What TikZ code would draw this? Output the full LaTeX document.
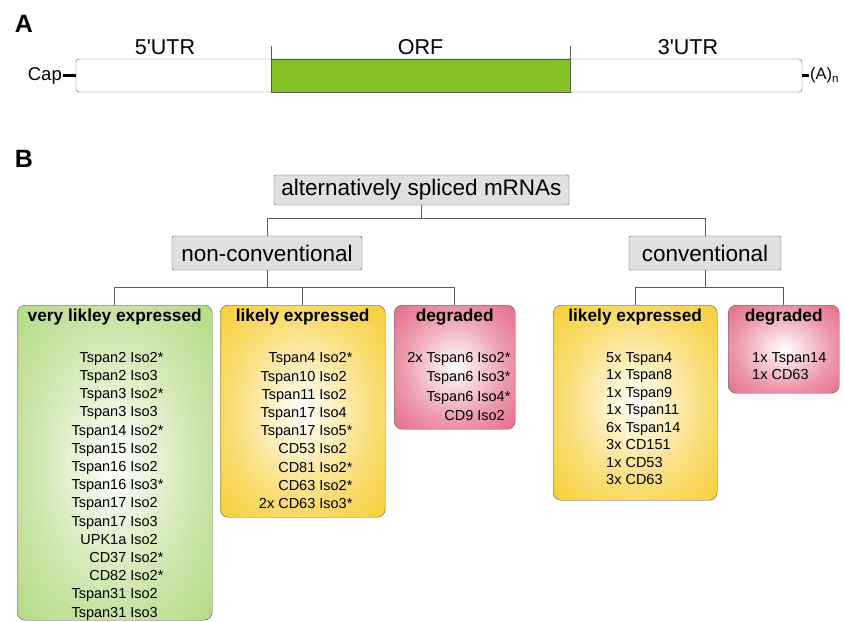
\documentclass[tikz,border=0pt]{standalone}
\usepackage{fontspec}
\setmainfont{Liberation Sans}
\usetikzlibrary{positioning}
\definecolor{orfgreen}{HTML}{84C225}
\definecolor{boxgreen}{HTML}{A0D062}
\definecolor{boxyellow}{HTML}{F5C000}
\definecolor{boxred}{HTML}{DD4566}
\definecolor{linegray}{HTML}{5A5A5A}
\definecolor{catgray}{HTML}{E0E0E0}
\newcommand{\glow}[2]{\pgfdeclareradialshading{#1}{\pgfpoint{0bp}{0bp}}{color(0bp)=(white); color(22bp)=(#2!55!white); color(48bp)=(#2); color(72bp)=(#2)}}
\glow{greenglow}{boxgreen}
\glow{yellowglow}{boxyellow}
\glow{redglow}{boxred}
\newcommand{\st}{\rlap{*}}
\tikzset{
	catbox/.style={draw=linegray, fill=catgray, rounded corners=2pt, inner sep=0pt, minimum height=30pt, font=\fontsize{22.5}{26}\selectfont},
	groupbox/.style={draw=linegray, rounded corners=8pt, inner sep=0pt, anchor=north west, shading=#1},
	head/.style={inner sep=0pt, font=\bfseries\fontsize{17.3}{20}\selectfont},
	items/.style={inner sep=0pt, font=\fontsize{14.5}{#1}\selectfont},
	items/.default=18.2,
	tree/.style={draw=linegray, line width=0.8pt}
}
\begin{document}
\begin{tikzpicture}[x=1pt, y=-1pt]
\useasboundingbox (0,0) rectangle (845,621);
\node [font=\bfseries\fontsize{25}{30}\selectfont] (labA) at (24,24) {A};
\node [font=\bfseries\fontsize{25}{30}\selectfont] (labB) at (24,159) {B};
% mRNA
\node [draw=linegray, rounded corners=3pt, fill=white, minimum width=726pt, minimum height=33pt, inner sep=0pt] (mrna) at (439,75.5) {};
\node [draw=linegray, fill=orfgreen, minimum width=299pt, minimum height=33pt, inner sep=0pt] (orf) at (420.5,75.5) {};
\draw [linegray] (orf.north west) -- ++(0,-13);
\draw [linegray] (orf.north east) -- ++(0,-13);
\node [font=\fontsize{21.5}{24}\selectfont] (utr5) at (165,47) {5\textquotesingle UTR};
\node [font=\fontsize{21.5}{24}\selectfont] (orfl) at (420.5,47) {ORF};
\node [font=\fontsize{21.5}{24}\selectfont] (utr3) at (688,47) {3\textquotesingle UTR};
\node [font=\fontsize{18.5}{20}\selectfont, inner sep=1pt, anchor=east] (cap) at (63,75.5) {Cap};
\node [font=\fontsize{16.5}{20}\selectfont, inner sep=1pt, anchor=west] (polyA) at (809,75.5) {(A)\textsubscript{n}};
\draw [line width=2.5pt] (cap.east) -- (mrna.west);
\draw [line width=2.5pt] (mrna.east) -- (polyA.west);
% tree
\node [catbox, minimum width=295pt] (root) at (421.5,190) {alternatively spliced mRNAs};
\node [catbox, minimum width=190pt, minimum height=34pt] (noncon) at (267,253) {non-conventional};
\node [catbox, minimum width=152pt, minimum height=34pt] (con) at (705,253) {conventional};
\node [groupbox=greenglow, minimum width=195pt, minimum height=315pt] (vle) at (17,305) {};
\node [groupbox=yellowglow, minimum width=165pt, minimum height=212pt] (le1) at (220,305) {};
\node [groupbox=redglow, minimum width=121pt, minimum height=124pt] (dg1) at (394,305) {};
\node [groupbox=yellowglow, minimum width=164pt, minimum height=195pt] (le2) at (553,305) {};
\node [groupbox=redglow, minimum width=111pt, minimum height=88pt] (dg2) at (728,305) {};
\coordinate (j1) at (421.5,218);
\coordinate (j2) at (267,287);
\coordinate (j3) at (705,287);
\draw [tree] (root.south) -- (j1) -| (noncon.north);
\draw [tree] (j1) -| (con.north);
\draw [tree] (noncon.south) -- (j2) -| (vle.north);
\draw [tree] (j2) -| (le1.north);
\draw [tree] (j2) -| (dg1.north);
\draw [tree] (con.south) -- (j3) -| (le2.north);
\draw [tree] (j3) -| (dg2.north);
% group contents
\node [head, below=4pt of vle.north] (vleHead) {very likley expressed};
\node [head, below=4pt of le1.north] (le1Head) {likely expressed};
\node [head, below=4pt of dg1.north] (dg1Head) {degraded};
\node [head, below=4pt of le2.north] (le2Head) {likely expressed};
\node [head, below=4pt of dg2.north] (dg2Head) {degraded};
\node [items, align=right, anchor=north east] (vleList) at (158,352) {Tspan2 Iso2\st\\Tspan2 Iso3\\Tspan3 Iso2\st\\Tspan3 Iso3\\Tspan14 Iso2\st\\Tspan15 Iso2\\Tspan16 Iso2\\Tspan16 Iso3\st\\Tspan17 Iso2\\Tspan17 Iso3\\UPK1a Iso2\\CD37 Iso2\st\\CD82 Iso2\st\\Tspan31 Iso2\\Tspan31 Iso3};
\node [items, align=right, anchor=north east] (le1List) at (347,352.5) {Tspan4 Iso2\st\\Tspan10 Iso2\\Tspan11 Iso2\\Tspan17 Iso4\\Tspan17 Iso5\st\\CD53 Iso2\\CD81 Iso2\st\\CD63 Iso2\st\\2x CD63 Iso3\st};
\node [items=19.1, align=right, anchor=north east] (dg1List) at (505,352.5) {2x Tspan6 Iso2\st\\Tspan6 Iso3\st\\Tspan6 Iso4\st\\CD9 Iso2};
\node [items=17.5, align=left, anchor=north west] (le2List) at (606,352) {5x Tspan4\\1x Tspan8\\1x Tspan9\\1x Tspan11\\6x Tspan14\\3x CD151\\1x CD53\\3x CD63};
\node [items=17.5, align=left, anchor=north west] (dg2List) at (752,352) {1x Tspan14\\1x CD63};
\end{tikzpicture}
\end{document}
